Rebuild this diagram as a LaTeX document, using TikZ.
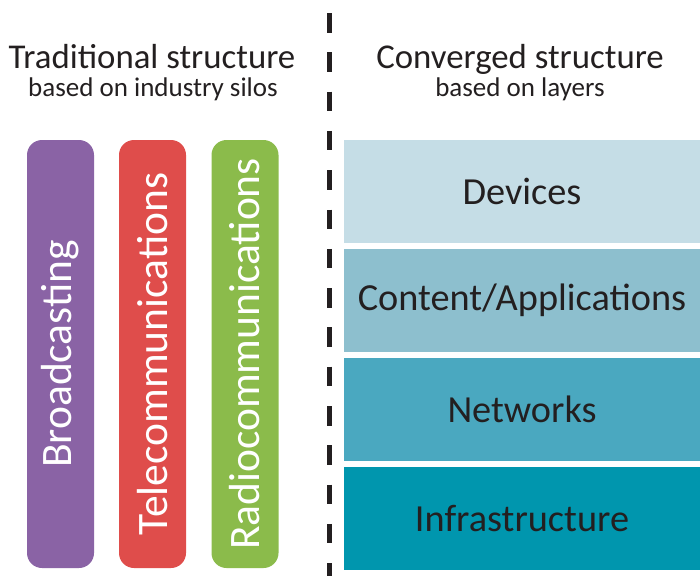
\documentclass[tikz,border=0pt]{standalone}
\usepackage{fontspec}
\setmainfont{Carlito}
\usetikzlibrary{positioning}

\definecolor{inkgray}{HTML}{231F20}
\definecolor{silopurple}{HTML}{8A63A5}
\definecolor{silored}{HTML}{DF4D4B}
\definecolor{silogreen}{HTML}{8BBB4B}
\definecolor{layerA}{HTML}{C5DDE6}
\definecolor{layerB}{HTML}{8DBFCE}
\definecolor{layerC}{HTML}{4AA8C0}
\definecolor{layerD}{HTML}{0096AE}

\begin{document}
\begin{tikzpicture}[
  x=1pt, y=-1pt,
  every node/.style={text=inkgray, inner sep=0pt},
  headline/.style={font=\fontsize{34.8}{38}\selectfont, anchor=base},
  subline/.style={font=\fontsize{27}{30}\selectfont, anchor=base},
  silo/.style={rectangle, rounded corners=15pt, rotate=90,
    minimum width=428pt, minimum height=67pt,
    text=white, font=\fontsize{43.5}{48}\selectfont},
  layerbox/.style={rectangle, minimum width=356pt, minimum height=103pt,
    font=\fontsize{38.3}{42}\selectfont},
  node distance=5.5pt
]
\useasboundingbox (0,0) rectangle (700,576);

% headings
\node[headline] (tradtitle) at (152,68) {Traditional structure};
\node[subline] (tradsub) at (153,96) {based on industry silos};
\node[headline] (convtitle) at (520,68) {Converged structure};
\node[subline] (convsub) at (520,96) {based on layers};

% dividing line
\coordinate (divtop) at (329.5,13);
\coordinate (divbot) at (329.5,576);
\draw[line width=5pt, inkgray, dash pattern=on 19.5pt off 19.8pt] (divtop) -- (divbot);

% silos
\node[silo, fill=silopurple] (broad) at (60.5,354) {Broadcasting};
\node[silo, fill=silored] (tele) at (152.5,354) {Telecommunications};
\node[silo, fill=silogreen] (radio) at (245,354) {Radiocommunications};

% layers
\node[layerbox, fill=layerA] (devices) at (522,191.5) {Devices};
\node[layerbox, fill=layerB, below=of devices] (content) {Content/Applications};
\node[layerbox, fill=layerC, below=of content] (networks) {Networks};
\node[layerbox, fill=layerD, below=of networks] (infra) {Infrastructure};
\end{tikzpicture}
\end{document}
